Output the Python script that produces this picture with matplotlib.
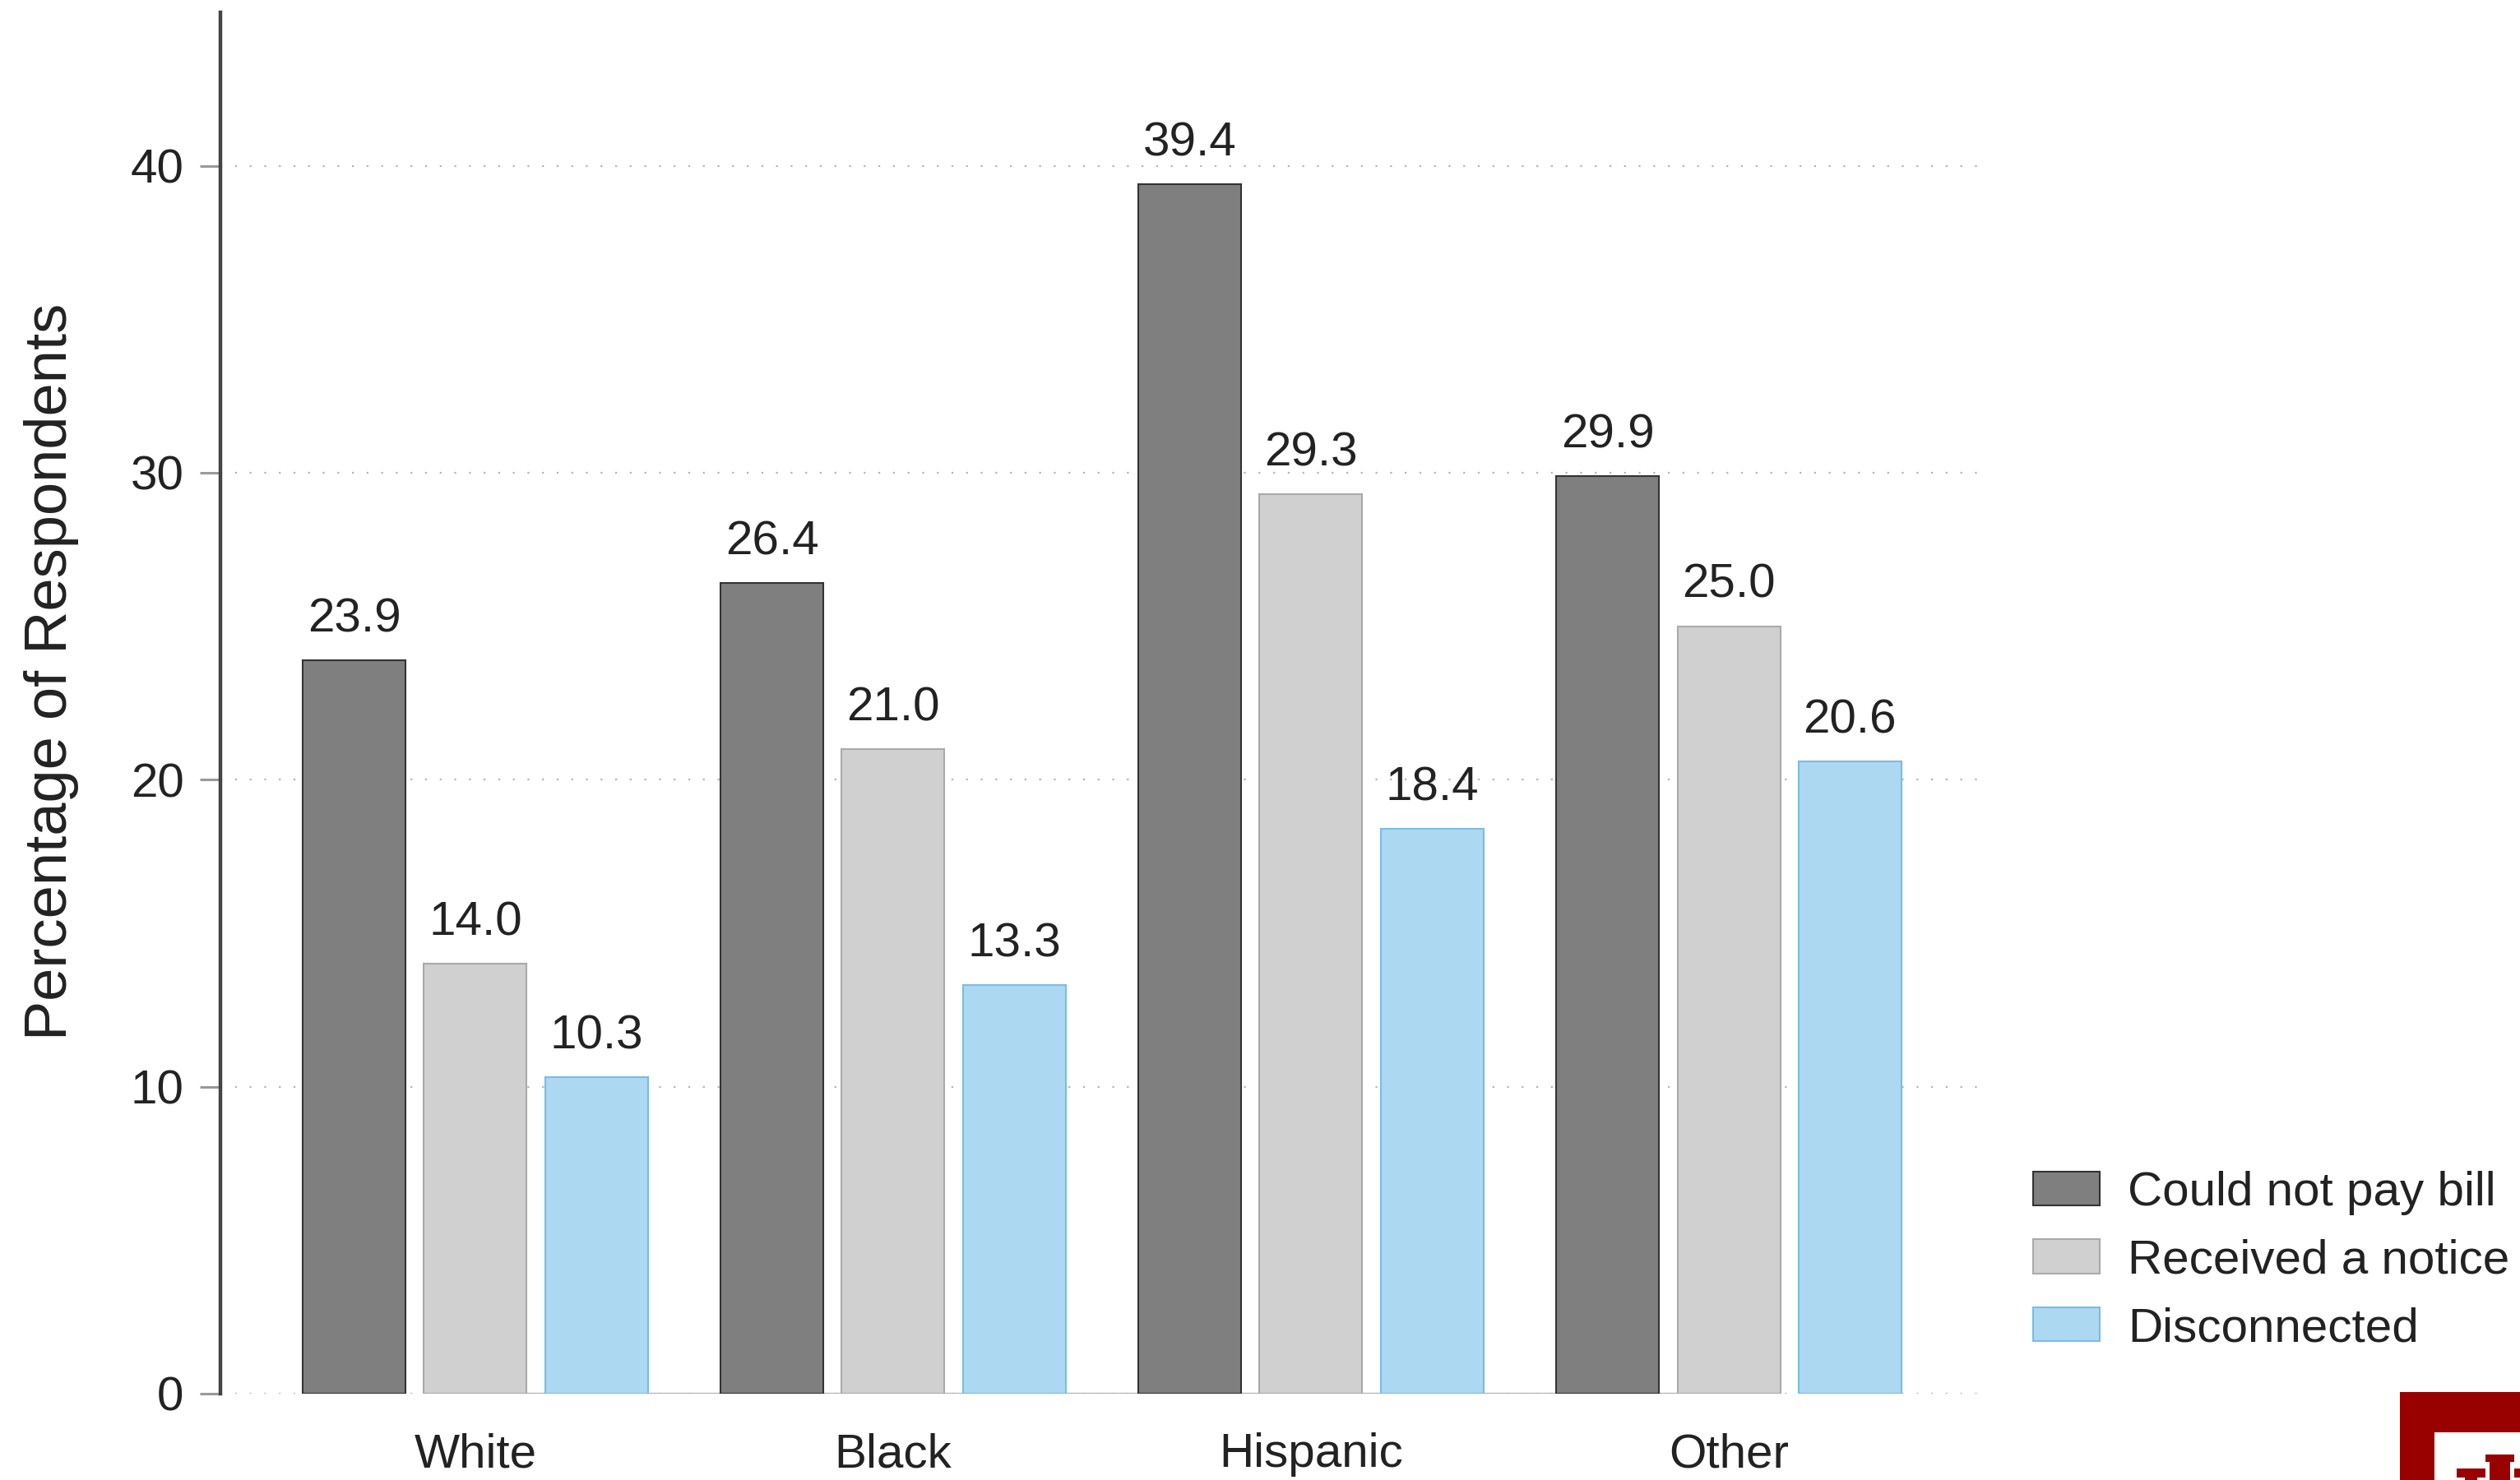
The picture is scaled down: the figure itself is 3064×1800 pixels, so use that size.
import numpy as np
import matplotlib
matplotlib.use("Agg")
import matplotlib.pyplot as plt
from matplotlib.patches import Rectangle

plt.rcParams["font.family"] = ["Liberation Sans", "DejaVu Sans"]

# Shares of respondents by race/ethnicity
groups = ["White", "Black", "Hispanic", "Other"]
series = ["Could not pay bill", "Received a notice", "Disconnected"]
could_not_pay = [23.9, 26.4, 39.4, 29.9]
received_notice = [14.0, 21.0, 29.3, 25.0]
disconnected = [10.3, 13.3, 18.4, 20.6]
y_ticks = [0, 10, 20, 30, 40]

values = [could_not_pay, received_notice, disconnected]
fills = ["#7f7f7f", "#d0d0d0", "#acd8f2"]
edges = ["#333333", "#aaaaaa", "#78bde6"]
text_color = "#222222"

W, H, DPI = 3064, 1800, 200
fig = plt.figure(figsize=(W / DPI, H / DPI), dpi=DPI)
ax = fig.add_axes([268 / W, 1 - 1695 / H, (2417 - 268) / W, 1680 / H])

x = np.arange(len(groups))
step = 0.29
width = 0.246

# dotted reference lines behind the bars
for t in y_ticks:
    ax.plot([-0.61, 3.62], [t, t], color="#b4b4b4", lw=0.8,
            linestyle=(0, (1, 7)), zorder=0, solid_capstyle="butt")
ax.plot([x[0], x[-1]], [0, 0], color="#b0b0b0", lw=0.8, zorder=1)

for i, (vals, fc, ec, name) in enumerate(zip(values, fills, edges, series)):
    pos = x + (i - 1) * step
    ax.bar(pos, vals, width=width, color=fc, edgecolor=ec, linewidth=0.75,
           label=name, zorder=2)
    for px_, v in zip(pos, vals):
        ax.annotate(f"{v:.1f}", (px_, v), xytext=(0, 12.5),
                    textcoords="offset points", ha="center", va="baseline",
                    fontsize=21, color=text_color)

ax.set_xlim(-0.61, 3.62)
ax.set_ylim(0, 45)
ax.set_yticks(y_ticks)
ax.set_xticks(x)
ax.set_xticklabels(groups)
ax.tick_params(axis="y", length=9, width=1.1, color="#999999", pad=7,
               labelsize=21, labelcolor=text_color)
ax.tick_params(axis="x", length=0, pad=17, labelsize=21, labelcolor=text_color)
for s in ["top", "right", "bottom"]:
    ax.spines[s].set_visible(False)
ax.spines["left"].set_color("#444444")
ax.spines["left"].set_linewidth(1.6)
ax.set_ylabel("Percentage of Respondents", fontsize=26, color=text_color)
ax.yaxis.set_label_coords(-0.080, 0.5226)

fig.legend(loc="lower left", bbox_to_anchor=(2472 / W, 0.0872), frameon=False,
           fontsize=21, handlelength=1.39, handleheight=0.72,
           handletextpad=0.58, labelspacing=0.49, borderpad=0,
           borderaxespad=0, labelcolor=text_color)

# corner emblem
red = "#990000"
def px_rect(x0, y0, x1, y1, color):
    fig.add_artist(Rectangle((x0 / W, 1 - y1 / H), (x1 - x0) / W,
                             (y1 - y0) / H, transform=fig.transFigure,
                             facecolor=color, edgecolor="none"))

px_rect(2918, 1693, W, H, red)
px_rect(2960, 1742, W, H, "white")
px_rect(3022, 1769, 3057, 1778, red)
px_rect(3027, 1778, 3052, H, red)
px_rect(2987, 1786, 3022, 1797, red)
px_rect(2997, 1797, 3012, H, red)
px_rect(3057, 1786, W, 1797, red)

fig.savefig("out.png", dpi=DPI)
